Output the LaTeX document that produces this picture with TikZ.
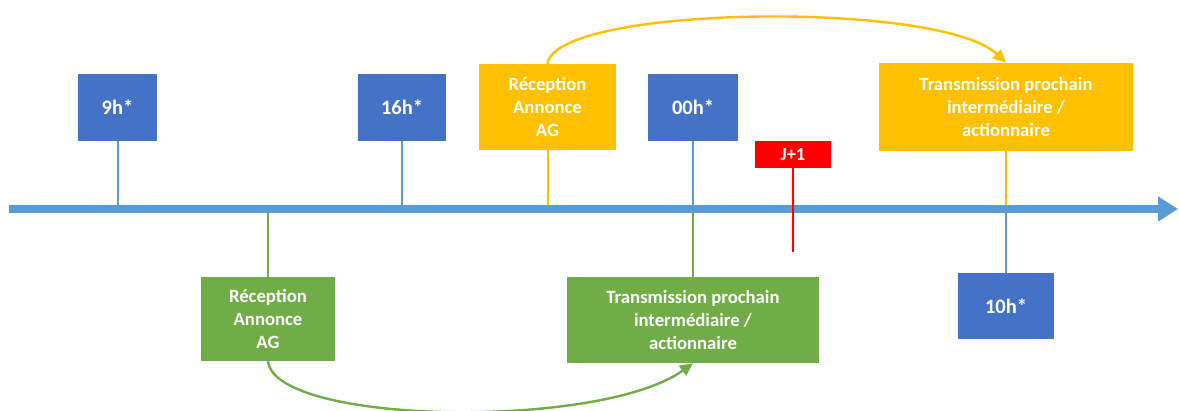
\documentclass[tikz,border=0pt]{standalone}
\usepackage{fontspec}
\setmainfont{Carlito}
\usetikzlibrary{arrows.meta}
\definecolor{boxblue}{HTML}{4472C4}
\definecolor{lineblue}{HTML}{5B9BD5}
\definecolor{ambre}{HTML}{FFC000}
\definecolor{vert}{HTML}{70AD47}
\definecolor{rouge}{HTML}{FF0000}
\begin{document}
\begin{tikzpicture}[x=1pt,y=-1pt,
  boxbase/.style={inner sep=0pt,text=white,align=center,
    font=\bfseries\fontsize{18.7}{22.8}\selectfont},
  timebox/.style={boxbase,fill=boxblue,font=\bfseries\fontsize{20.5}{24}\selectfont},
  yellowbox/.style={boxbase,fill=ambre},
  greenbox/.style={boxbase,fill=vert},
  redbox/.style={boxbase,fill=rouge,font=\bfseries\fontsize{18.5}{20}\selectfont},
  tick/.style={line width=2pt},
  curve/.style={line width=2.4pt,-{Triangle[length=13pt,width=12pt]}}]
\useasboundingbox (0,0) rectangle (1179,411);

% boxes above the time line
\node[timebox,minimum width=79pt,minimum height=67pt] (t9) at (117.5,107.5) {9h*};
\node[timebox,minimum width=88pt,minimum height=67pt] (t16) at (402,107.5) {16h*};
\node[yellowbox,minimum width=137pt,minimum height=86pt] (yrec) at (547.5,107) {Réception\\Annonce\\AG};
\node[timebox,minimum width=90pt,minimum height=67pt] (t00) at (693,107.5) {00h*};
\node[redbox,minimum width=76pt,minimum height=27pt] (j1) at (793,154.5) {J+1};
\node[yellowbox,minimum width=254pt,minimum height=88pt] (ytr) at (1006,107) {Transmission prochain\\intermédiaire /\\actionnaire};

% boxes below the time line
\node[greenbox,minimum width=134pt,minimum height=84pt] (grec) at (268,319) {Réception\\Annonce\\AG};
\node[greenbox,minimum width=252pt,minimum height=86pt] (gtr) at (693,320) {Transmission prochain\\intermédiaire /\\actionnaire};
\node[timebox,minimum width=96pt,minimum height=66pt] (t10) at (1006,306) {10h*};

% time line ends
\coordinate (a0) at (9,209);
\coordinate (a1) at (1178,209);
\coordinate (jend) at (793,252);

% ticks joining the boxes to the time line
\draw[tick,lineblue] (t9.south) -- (t9.south |- a0);
\draw[tick,lineblue] (t16.south) -- (t16.south |- a0);
\draw[tick,ambre] (yrec.south) -- (yrec.south |- a0);
\draw[tick,lineblue] (t00.south) -- (t00.south |- a0);
\draw[tick,ambre] (ytr.south) -- (ytr.south |- a0);
\draw[tick,vert] (grec.north) -- (grec.north |- a0);
\draw[tick,vert] (gtr.north) -- (gtr.north |- a0);
\draw[tick,lineblue] (t10.north) -- (t10.north |- a0);

% time line
\draw[lineblue,line width=8pt,-{Triangle[length=20pt,width=24pt]}] (a0) -- (a1);

% next day marker
\draw[tick,rouge] (j1.south) -- (jend);

% forwarding arrows
\draw[curve,ambre] (yrec.north) .. controls (555,5) and (940,0) .. (ytr.north);
\draw[curve,vert] (grec.south) .. controls (275,425) and (600,430) .. (gtr.south);
\end{tikzpicture}
\end{document}
